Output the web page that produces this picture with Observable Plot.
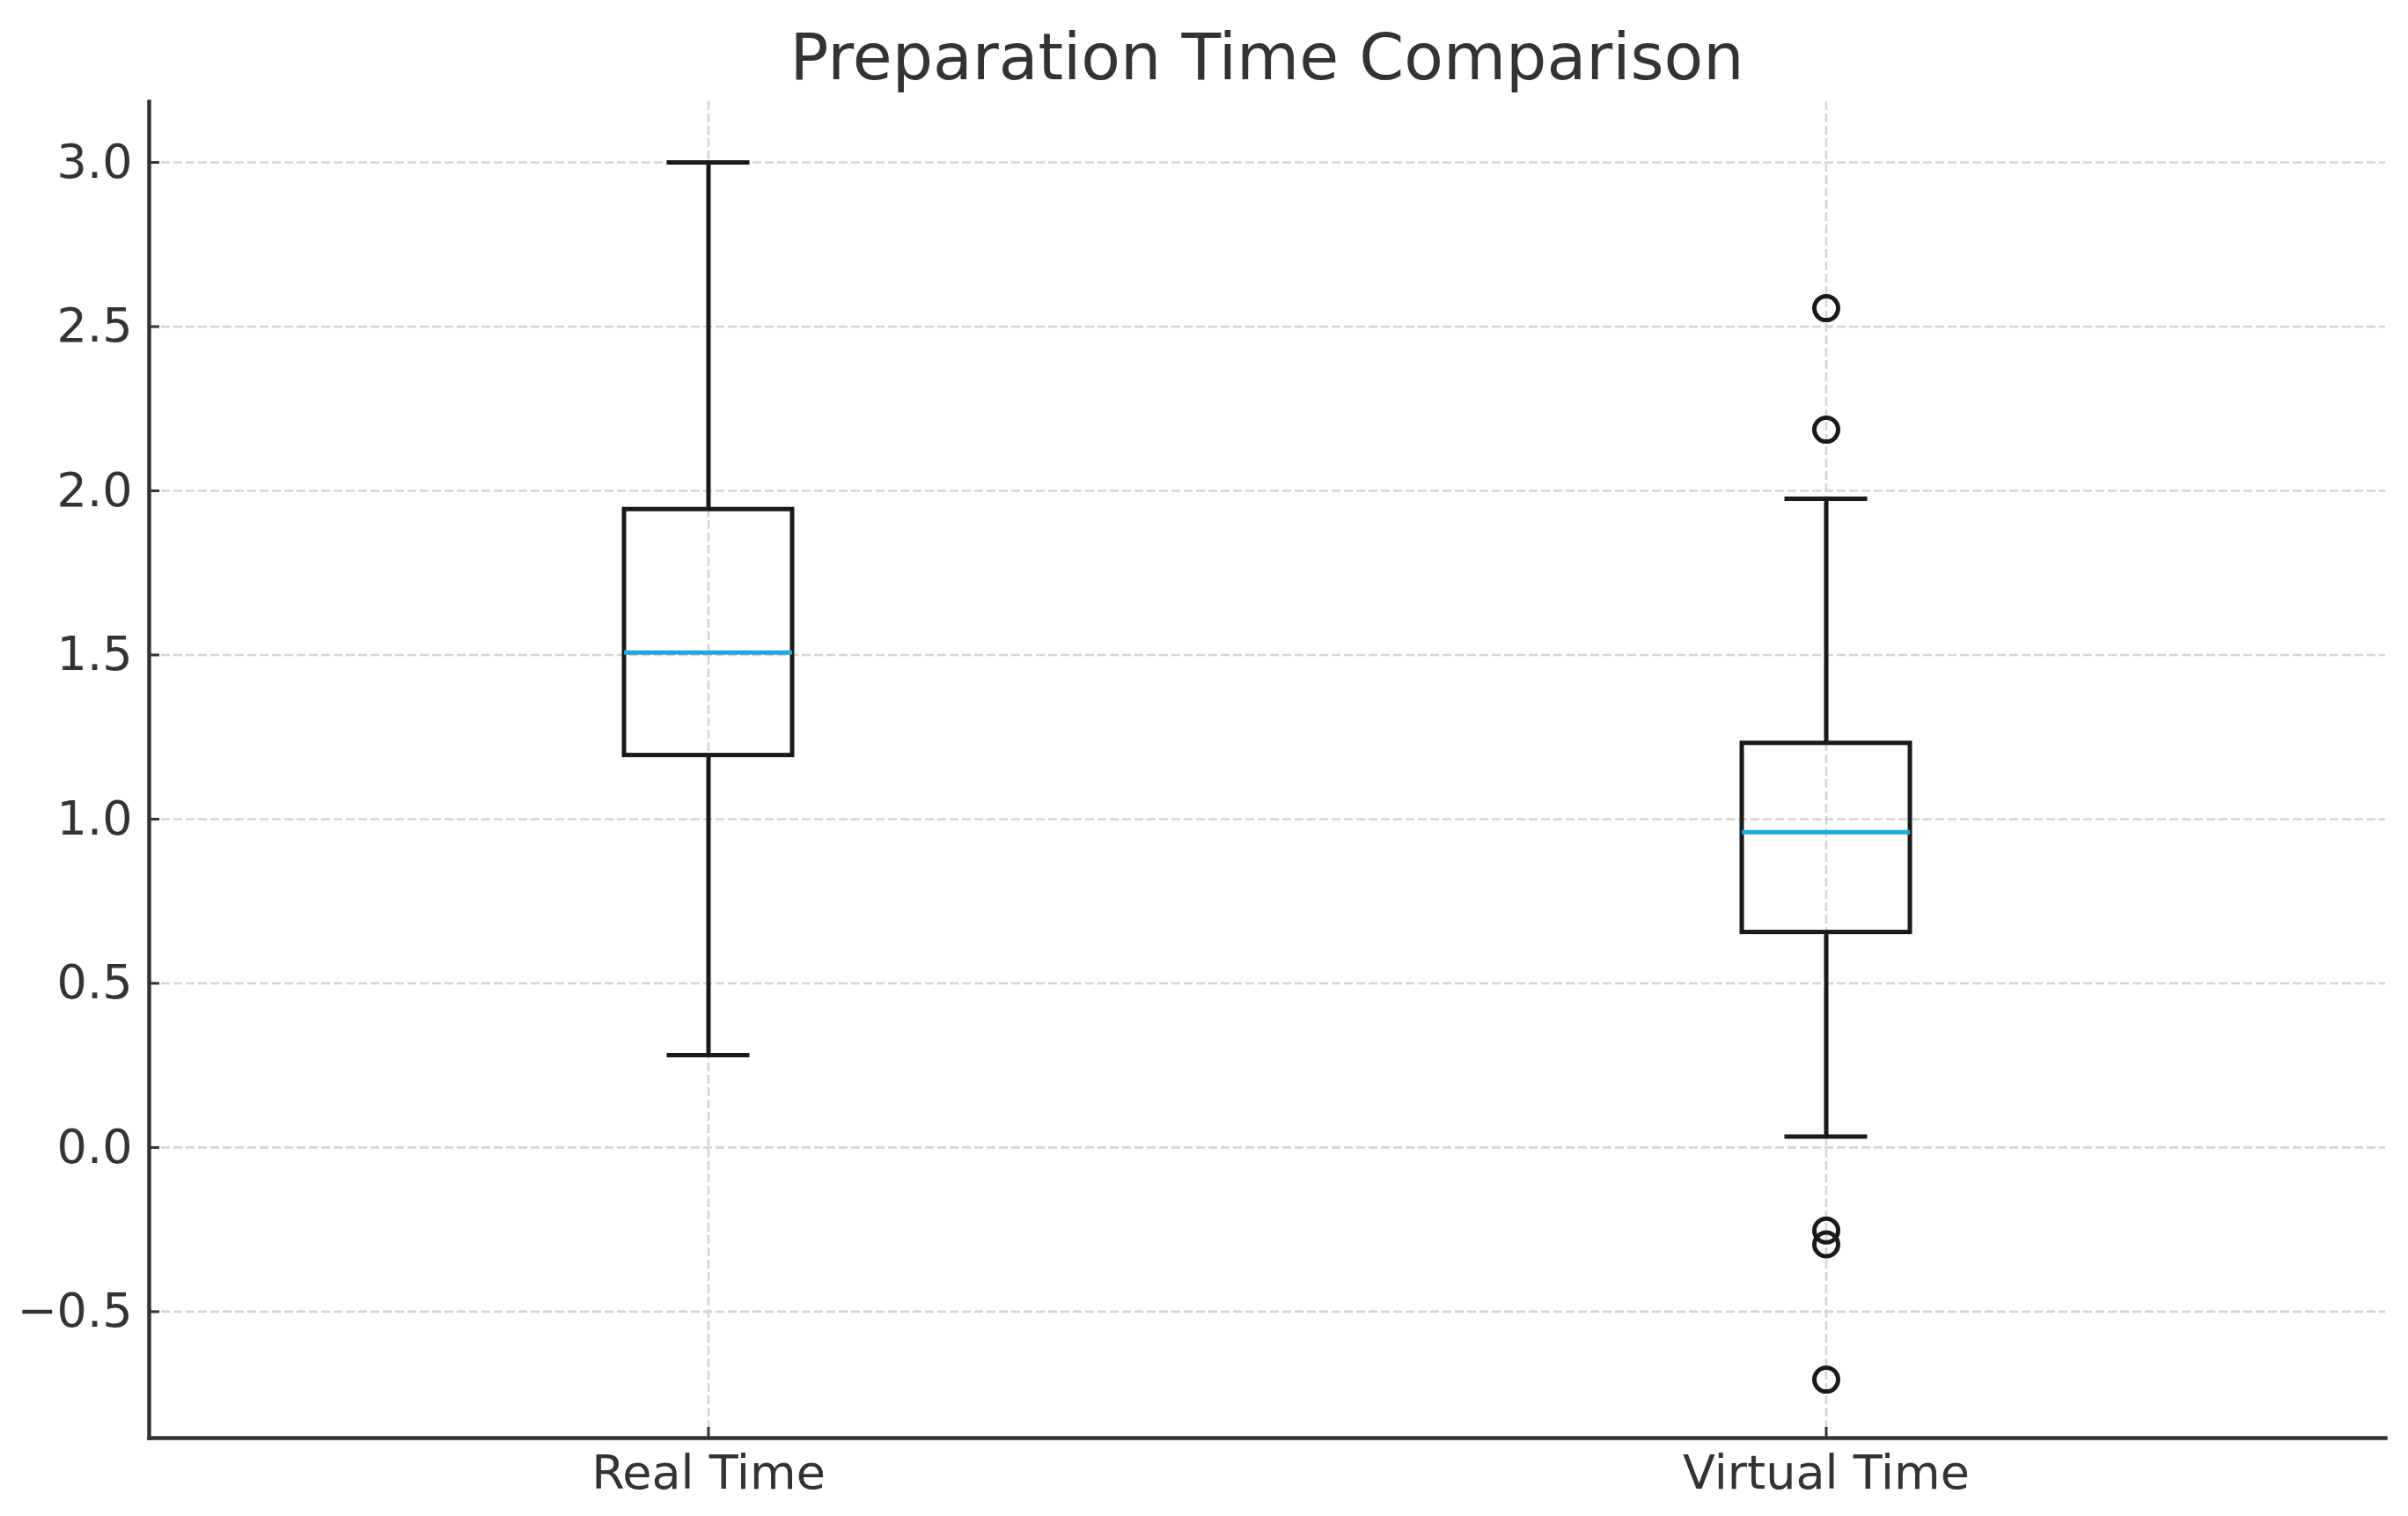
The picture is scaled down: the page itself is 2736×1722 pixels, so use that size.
<!DOCTYPE html>
<html>
<head>
<meta charset="utf-8">
<script src="https://cdn.jsdelivr.net/npm/d3@7"></script>
<script src="https://cdn.jsdelivr.net/npm/@observablehq/plot@0.6"></script>
<style>
  html, body { margin: 0; padding: 0; background: #fff; }
  #wrap { width: 2736px; height: 1722px; position: relative; font-family: "DejaVu Sans", sans-serif; }
  #title { position: absolute; left: 169px; width: 2541px; top: 0; height: 110px; line-height: 130px;
           text-align: center; font-size: 73px; color: #333; font-family: "DejaVu Sans", sans-serif; }
  #chart { position: absolute; left: 0; top: 110px; }
</style>
</head>
<body>
<div id="wrap">
  <div id="title">Preparation Time Comparison</div>
  <div id="chart"></div>
</div>
<script>
// ---- data ----
const categories = ["Real Time", "Virtual Time"];
const q1 = [1.194, 0.655];
const median = [1.507, 0.960];
const q3 = [1.943, 1.231];
const whiskerLow = [0.281, 0.033];
const whiskerHigh = [3.0, 1.976];
const outlierCategory = ["Virtual Time", "Virtual Time", "Virtual Time", "Virtual Time", "Virtual Time"];
const outlierValues = [2.556, 2.186, -0.253, -0.295, -0.707];
const yTicks = [-0.5, 0.0, 0.5, 1.0, 1.5, 2.0, 2.5, 3.0];
const yDomain = [-0.885, 3.185];

const boxes = categories.map((c, i) => ({
  cat: c, q1: q1[i], med: median[i], q3: q3[i], lo: whiskerLow[i], hi: whiskerHigh[i]
}));
const outliers = outlierValues.map((v, i) => ({ cat: outlierCategory[i], v }));

const ink = "#1a1a1a";
const gridColor = "#d4d4d4";
const fmt = d => (d < 0 ? "\u2212" : "") + Math.abs(d).toFixed(1);

const chart = Plot.plot({
  width: 2736,
  height: 1612,
  marginLeft: 169,
  marginRight: 26,
  marginTop: 5,
  marginBottom: 89,
  style: { fontFamily: "DejaVu Sans, sans-serif", fontSize: "54px", color: "#333", background: "#fff" },
  x: { type: "band", domain: categories, paddingInner: 0.85, paddingOuter: 0.425, align: 0.5 },
  y: { domain: yDomain },
  marks: [
    Plot.gridY(yTicks, { stroke: gridColor, strokeOpacity: 1, strokeWidth: 2.6, strokeDasharray: "10,4" }),
    Plot.gridX(categories, { stroke: gridColor, strokeOpacity: 1, strokeWidth: 2.6, strokeDasharray: "10,4" }),
    // whiskers
    Plot.ruleX(boxes, { x: "cat", y1: "q3", y2: "hi", stroke: ink, strokeWidth: 5 }),
    Plot.ruleX(boxes, { x: "cat", y1: "lo", y2: "q1", stroke: ink, strokeWidth: 5 }),
    // caps
    Plot.tickY(boxes, { x: "cat", y: "hi", stroke: ink, strokeWidth: 5, insetLeft: 48.5, insetRight: 48.5 }),
    Plot.tickY(boxes, { x: "cat", y: "lo", stroke: ink, strokeWidth: 5, insetLeft: 48.5, insetRight: 48.5 }),
    // boxes
    Plot.barY(boxes, { x: "cat", y1: "q1", y2: "q3", fill: "none", stroke: ink, strokeWidth: 5 }),
    // medians
    Plot.tickY(boxes, { x: "cat", y: "med", stroke: "#1ea8e2", strokeWidth: 5 }),
    // outliers
    Plot.dot(outliers, { x: "cat", y: "v", r: 13.5, stroke: ink, strokeWidth: 5, fill: "none" }),
    // spines
    Plot.frame({ anchor: "left", stroke: "#333", strokeWidth: 4.5 }),
    Plot.frame({ anchor: "bottom", stroke: "#333", strokeWidth: 4.5 }),
    // axes
    Plot.axisY(yTicks, { tickFormat: fmt, tickSize: -12, tickPadding: 31, stroke: "#333", strokeWidth: 3, fill: "#333", fontSize: 54, label: null }),
    Plot.axisX(categories, { tickSize: -12, tickPadding: 31, stroke: "#333", strokeWidth: 3, fill: "#333", fontSize: 54, label: null })
  ]
});
document.getElementById("chart").appendChild(chart);
</script>
</body>
</html>
